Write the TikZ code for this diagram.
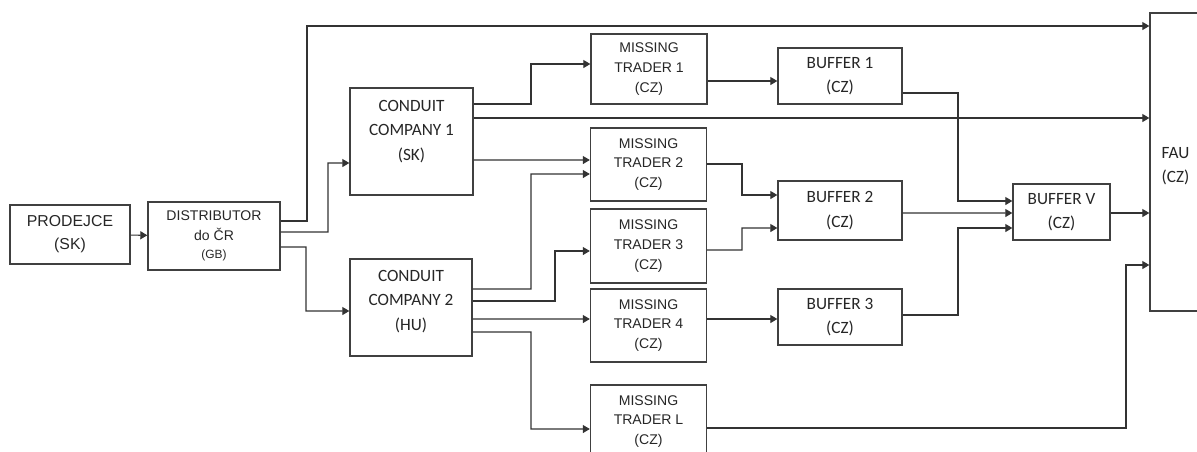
\documentclass[tikz,border=0pt]{standalone}
\usepackage{fontspec}
\setmainfont{Liberation Sans}
\newfontfamily\calfam{Carlito}
\usepackage{tikz}
\usetikzlibrary{calc,arrows.meta}

\tikzset{
  box/.style={draw=black!75, line width=0.8pt, inner sep=0pt, align=center, text=black!85},
  arr/.style={draw=black!80, line width=0.6pt, -{Triangle[length=4pt,width=4.6pt]}},
  arialtxt/.style={font=\fontsize{8}{11.3}\selectfont},
  caltxt/.style={font=\calfam\fontsize{9.8}{13.8}\selectfont},
  trader/.style={box, arialtxt, minimum width=2.32cm, minimum height=1.46cm},
  buffer/.style={box, caltxt, minimum width=2.48cm, minimum height=1.12cm},
}

\begin{document}
\begin{tikzpicture}[x=0.02cm,y=-0.02cm]
\useasboundingbox (0,0) rectangle (1197,451);

% boxes
\node[box, minimum width=2.4cm, minimum height=1.18cm, font=\fontsize{9}{13}\selectfont] (prod) at (70,234.5) {PRODEJCE\\(SK)};
\node[box, arialtxt, minimum width=2.64cm, minimum height=1.36cm] (dist) at (214,236) {DISTRIBUTOR\\do ČR\\[-1pt]{\fontsize{6.8}{8}\selectfont(GB)}};

\node[box, minimum width=2.46cm, minimum height=2.14cm,
  label={[caltxt, align=center, text=black!85, yshift=0.2cm]center:CONDUIT\\COMPANY 1\\(SK)}] (cc1) at (411.5,141.5) {};
\node[box, minimum width=2.44cm, minimum height=1.94cm,
  label={[caltxt, align=center, text=black!85, yshift=0.12cm]center:CONDUIT\\COMPANY 2\\(HU)}] (cc2) at (411,307.5) {};

\node[trader, minimum height=1.4cm] (mt1) at (649,69) {MISSING\\TRADER 1\\(CZ)};
\node[trader] (mt2) at (648.5,164.5) {MISSING\\TRADER 2\\(CZ)};
\node[trader, minimum height=1.48cm] (mt3) at (648.5,246) {MISSING\\TRADER 3\\(CZ)};
\node[trader] (mt4) at (648.5,325.5) {MISSING\\TRADER 4\\(CZ)};
\node[trader] (mtl) at (648.5,421.5) {MISSING\\TRADER L\\(CZ)};

\node[buffer] (b1) at (840,76) {BUFFER 1\\(CZ)};
\node[buffer, minimum height=1.18cm] (b2) at (840,210.5) {BUFFER 2\\(CZ)};
\node[buffer] (b3) at (840,317) {BUFFER 3\\(CZ)};
\node[buffer, minimum width=1.94cm] (bv) at (1061.5,212) {BUFFER V\\(CZ)};

\node[box, minimum width=1.6cm, minimum height=5.96cm,
  label={[caltxt, align=left, text=black!85, anchor=west, inner sep=0pt, xshift=0.24cm, yshift=-0.09cm]west:FAU\\(CZ)}] (fau) at (1190,162) {};

% connectors
\draw[arr] (prod) -- (dist);

\draw[arr] ($(dist.east)+(0,-15)$) -| (307,26) -- ($(fau.west)+(0,-136)$);
\draw[arr] ($(dist.east)+(0,-4)$) -| (328,163) -- ($(cc1.west)+(0,21.5)$);
\draw[arr] ($(dist.east)+(0,11)$) -| (306,311) -- ($(cc2.west)+(0,3.5)$);

\draw[arr] ($(cc1.east)+(0,-37.5)$) -| (531,64) -- ($(mt1.west)+(0,-5)$);
\draw[arr] ($(cc1.east)+(0,-23.5)$) -- ($(fau.west)+(0,-44)$);
\draw[arr] ($(cc1.east)+(0,18.5)$) -- ($(mt2.west)+(0,-4.5)$);

\draw[arr] ($(cc2.east)+(0,-18.5)$) -| (531,174) -- ($(mt2.west)+(0,9.5)$);
\draw[arr] ($(cc2.east)+(0,-6.5)$) -| (555,251) -- ($(mt3.west)+(0,5)$);
\draw[arr] ($(cc2.east)+(0,11.5)$) -- ($(mt4.west)+(0,-6.5)$);
\draw[arr] ($(cc2.east)+(0,24.5)$) -| (531,429) -- ($(mtl.west)+(0,7.5)$);

\draw[arr] ($(mt1.east)+(0,12)$) -- ($(b1.west)+(0,5)$);
\draw[arr] ($(mt2.east)+(0,-0.5)$) -| (742,195) -- ($(b2.west)+(0,-15.5)$);
\draw[arr] ($(mt3.east)+(0,4)$) -| (742,228) -- ($(b2.west)+(0,17.5)$);
\draw[arr] ($(mt4.east)+(0,-6.5)$) -- ($(b3.west)+(0,2)$);

\draw[arr] ($(b1.east)+(0,17)$) -| (958,201) -- ($(bv.west)+(0,-11)$);
\draw[arr] ($(b2.east)+(0,2.5)$) -- ($(bv.west)+(0,1)$);
\draw[arr] ($(b3.east)+(0,-2)$) -| (958,228) -- ($(bv.west)+(0,16)$);

\draw[arr] ($(bv.east)+(0,1)$) -- ($(fau.west)+(0,51)$);
\draw[arr] ($(mtl.east)+(0,6.5)$) -| (1126,265) -- ($(fau.west)+(0,103)$);

\end{tikzpicture}
\end{document}
